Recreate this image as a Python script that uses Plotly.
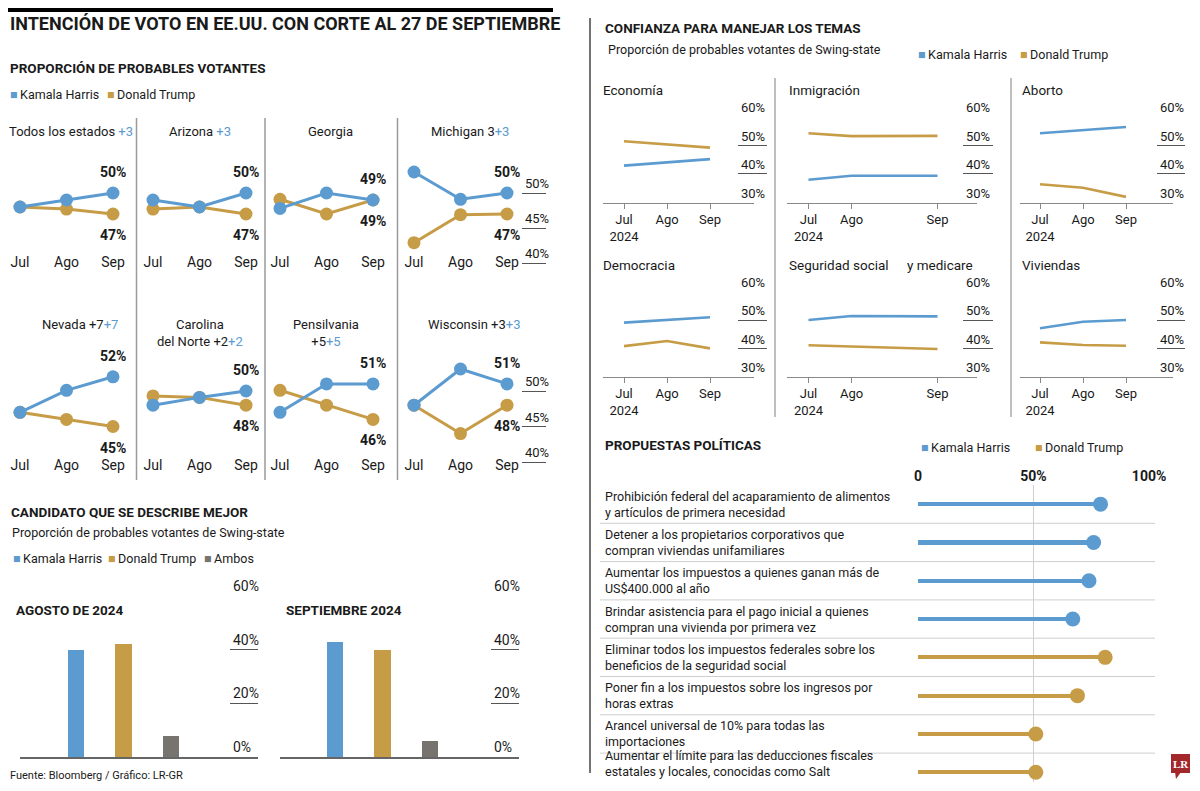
import plotly.graph_objects as go

# ---------------------------------------------------------------- DATA
MESES = ["Jul", "Ago", "Sep"]

ESTADOS = ["Todos los estados ", "Arizona ", "Georgia", "Michigan 3", "Nevada +7",
           "Carolina<br>del Norte +2", "Pensilvania<br>+5", "Wisconsin +3"]
VENTAJA = ["+3", "+3", "", "+3", "+7", "+2", "+5", "+3"]
HARRIS_ESTADO = [[48, 49, 50], [49, 48, 50], [47.8, 50, 49], [53, 49.1, 50],
                 [47, 50.1, 52], [48, 49.1, 50], [47, 51, 51], [48, 53.1, 51]]
TRUMP_ESTADO = [[48, 47.7, 47], [47.7, 48, 47], [49.1, 47, 49], [42.9, 46.9, 47],
                [47, 46, 45], [49.3, 49.1, 48], [50.1, 48, 46], [48, 44, 48]]

DESCRIPCION_CATS = ["Kamala Harris", "Donald Trump", "Ambos"]
DESCRIPCION_AGO = [40, 42, 8]
DESCRIPCION_SEP = [43, 40, 6]

TEMAS = ["Economía", "Inmigración", "Aborto", "Democracia", "Seguridad social", "Viviendas"]
TEMA_CALENDARIO = [["Jul", "Ago", "Sep"], ["Jul", "Ago", " ", "Sep"], ["Jul", "Ago", "Sep"],
                   ["Jul", "Ago", "Sep"], ["Jul", "Ago", " ", "Sep"], ["Jul", "Ago", "Sep"]]
HARRIS_TEMA = [[42.9, 44.1, 45.2], [38, 39.4, 39.4], [54.2, 55.2, 56.4],
               [49.1, 50, 51], [50, 51.4, 51.3], [47.1, 49.4, 50]]
TRUMP_TEMA = [[51.4, 50.2, 49.2], [54.2, 53.2, 53.3], [36.4, 35.2, 32],
              [40.8, 42.6, 40], [41.1, 40.7, 39.8], [42.1, 41.2, 40.9]]

PROPUESTAS = [
    "Prohibición federal del acaparamiento de alimentos<br>y artículos de primera necesidad",
    "Detener a los propietarios corporativos que<br>compran viviendas unifamiliares",
    "Aumentar los impuestos a quienes ganan más de<br>US$400.000 al año",
    "Brindar asistencia para el pago inicial a quienes<br>compran una vivienda por primera vez",
    "Eliminar todos los impuestos federales sobre los<br>beneficios de la seguridad social",
    "Poner fin a los impuestos sobre los ingresos por<br>horas extras",
    "Arancel universal de 10% para todas las<br>importaciones",
    "Aumentar el límite para las deducciones fiscales<br>estatales y locales, conocidas como Salt",
]
PROPUESTA_CANDIDATO = ["Kamala Harris"] * 4 + ["Donald Trump"] * 4
PROPUESTA_APOYO = [79, 76, 74, 67, 81, 69, 51, 51]

# ---------------------------------------------------------------- STYLE
# The page keeps the browser's 8px body margin, so the figure is sized to fill the
# 1200x791 window exactly and all positions below are given in window pixels.
PAGE_W, PAGE_H, PAD = 1200, 791, 8
W, H = PAGE_W - 2 * PAD, PAGE_H - 2 * PAD - 1
FONT = "Roboto, Liberation Sans, sans-serif"
INK = "#1a1a1a"
AZUL = "#5b9bd0"
ORO = "#c79c47"
GRIS = "#77736e"
COLOR = {"Kamala Harris": AZUL, "Donald Trump": ORO, "Ambos": GRIS}


def X(px):
    return min(max((px - PAD) / W, 0), 1)


def Y(py):
    return min(max(1 - (py - PAD) / H, 0), 1)


fig = go.Figure()
axes = {}
annots = []
shapes = []
count = [0]
BASE_AX = dict(showgrid=False, zeroline=False, showline=False, automargin=False,
               showticklabels=False, ticks="", fixedrange=True)


def subplot(xpx, ypx, xkw=None, ykw=None):
    count[0] += 1
    k = count[0]
    sx = "" if k == 1 else str(k)
    xr, yr = "x" + sx, "y" + sx
    xa = dict(BASE_AX)
    xa.update(domain=[X(xpx[0]), X(xpx[1])], anchor=yr)
    xa.update(xkw or {})
    ya = dict(BASE_AX)
    ya.update(domain=[Y(ypx[1]), Y(ypx[0])], anchor=xr)
    ya.update(ykw or {})
    axes["xaxis" + sx] = xa
    axes["yaxis" + sx] = ya
    return xr, yr


def escala(xpx, ypx, yrange, vals, size=13):
    xa, ya = subplot(xpx, ypx, dict(range=[0, 1]),
                     dict(range=yrange, tickvals=vals, ticktext=[f"{v}%" for v in vals],
                          showticklabels=True, showgrid=True, gridcolor="#555", gridwidth=1,
                          side="left", ticklabelposition="inside top", ticklabeloverflow="allow",
                          tickfont=dict(family=FONT, size=size, color=INK)))
    fig.add_trace(go.Scatter(x=[0.5], y=[vals[0]], mode="markers", xaxis=xa, yaxis=ya,
                             marker=dict(size=1, opacity=0), showlegend=False, hoverinfo="skip"))


def txt(text, xpx, ypx, size=13, color=INK, xanchor="left", yanchor="middle", align="left", family=FONT):
    annots.append(dict(text=text, x=X(xpx), y=Y(ypx), xref="paper", yref="paper",
                       xanchor=xanchor, yanchor=yanchor, align=align, showarrow=False,
                       font=dict(family=family, size=size, color=color)))


def leyenda(items, ypx, size=12.5):
    for label, xpx in items:
        txt(f"<span style='color:{COLOR[label]}'>■</span>\u2009{label}", xpx, ypx, size=size)


def linea(x0, y0, x1, y1, color="#999", width=1.5):
    shapes.append(dict(type="line", xref="paper", yref="paper", x0=X(x0), x1=X(x1),
                       y0=Y(y0), y1=Y(y1), line=dict(color=color, width=width)))


# ---------------------------------------------------------------- HEADERS
shapes.append(dict(type="rect", xref="paper", yref="paper", x0=X(PAD), x1=X(553), y0=Y(12), y1=Y(PAD),
                   fillcolor="black", line=dict(width=0)))
txt("<b>INTENCIÓN DE VOTO EN EE.UU. CON CORTE AL 27 DE SEPTIEMBRE</b>", 6, 24, size=18)
txt("<b>PROPORCIÓN DE PROBABLES VOTANTES</b>", 6, 68, size=13.5)
leyenda([("Kamala Harris", 8), ("Donald Trump", 105)], 95)

linea(590, 18, 590, 773, color="#444", width=1.5)

# ---------------------------------------------------------------- STATE PANELS
JUL_PX = [20, 153, 280, 414]
PASO = 46.5
FILAS = [dict(top=150, bot=252, ref=193, s=7.0, sbot=272),
         dict(top=345, bot=455, ref=391, s=7.1, sbot=470)]
TIT_X = [71, 200, 330, 470, 80, 200, 326, 474]

for i in range(8):
    fila, col = divmod(i, 4)
    F = FILAS[fila]
    jul = JUL_PX[col]
    left = max(jul - 0.4 * PASO, PAD + 0.5)
    xr = [(left - jul) / PASO, 2.4]
    yr = [50 - (F["bot"] - F["ref"]) / F["s"], 50 + (F["ref"] - F["top"]) / F["s"]]
    xa, ya = subplot((left, jul + xr[1] * PASO), (F["top"], F["bot"]),
                     dict(type="category", categoryorder="array", categoryarray=MESES, range=xr,
                          showticklabels=True, tickfont=dict(family=FONT, size=14, color=INK)),
                     dict(range=yr))
    for vals, color, shift in ((TRUMP_ESTADO[i], ORO, -21), (HARRIS_ESTADO[i], AZUL, 21)):
        fig.add_trace(go.Scatter(x=MESES, y=vals, mode="lines+markers", xaxis=xa, yaxis=ya,
                                 line=dict(color=color, width=3), marker=dict(size=13, color=color),
                                 cliponaxis=False, showlegend=False, hoverinfo="skip"))
        annots.append(dict(x=MESES[-1], y=vals[-1], xref=xa, yref=ya, yshift=shift,
                           text=f"<b>{vals[-1]:.0f}%</b>", showarrow=False,
                           font=dict(family=FONT, size=14, color=INK)))
    titulo = ESTADOS[i] + (f"<span style='color:{AZUL}'>{VENTAJA[i]}</span>" if VENTAJA[i] else "")
    if fila == 0:
        txt(titulo, TIT_X[i], 132, size=13, xanchor="center", align="center")
    else:
        txt(titulo, TIT_X[i], 315, size=13, xanchor="center", yanchor="top", align="center")
    if col == 3:
        syr = [50 - (F["sbot"] - F["ref"]) / F["s"], yr[1]]
        escala((522, 546), (F["top"], F["sbot"]), syr, [40, 45, 50])

for xs in (136.5, 265, 397.5):
    linea(xs, 118, xs, 480, color="#9a9a9a", width=1.5)

# ---------------------------------------------------------------- DESCRIPTION BARS
txt("<b>CANDIDATO QUE SE DESCRIBE MEJOR</b>", 9, 512, size=13.5)
txt("Proporción de probables votantes de Swing-state", 10, 532, size=12.5)
leyenda([("Kamala Harris", 11), ("Donald Trump", 106), ("Ambos", 202)], 558)

PASO_B = 47.5
for vals, (x0, x1, first), titulo, tx, (s0, s1) in (
        (DESCRIPCION_AGO, (20, 258, 76), "AGOSTO DE 2024", 14, (230, 258)),
        (DESCRIPCION_SEP, (280, 519, 335), "SEPTIEMBRE 2024", 284, (491, 519))):
    xr = [(x0 - first) / PASO_B, (x1 - first) / PASO_B]
    xa, ya = subplot((x0, x1), (596, 757),
                     dict(type="category", categoryorder="array", categoryarray=DESCRIPCION_CATS,
                          range=xr, showline=True, linecolor="#666", linewidth=1.5),
                     dict(range=[0, 60]))
    fig.add_trace(go.Bar(x=DESCRIPCION_CATS, y=vals, width=0.34, xaxis=xa, yaxis=ya,
                         marker=dict(color=[COLOR[c] for c in DESCRIPCION_CATS], line=dict(width=0)),
                         showlegend=False, hoverinfo="skip"))
    escala((s0, s1), (596, 757), [0, 60], [0, 20, 40, 60], size=14)
    txt(f"<b>{titulo}</b>", tx, 610, size=13.5)

txt("Fuente: Bloomberg / Gráfico: LR-GR", 8, 775, size=11)

# ---------------------------------------------------------------- ISSUE PANELS
txt("<b>CONFIANZA PARA MANEJAR LOS TEMAS</b>", 603, 28, size=13.5)
txt("Proporción de probables votantes de Swing-state", 606, 50, size=12.5)
leyenda([("Kamala Harris", 916), ("Donald Trump", 1018)], 54)

TEMA_JUL = [624, 808.5, 1040]
TEMA_RANGO = [[-0.49, 3.02], [-0.49, 3.92], [-0.47, 3.09]]
TEMA_ESCALA = [(738, 767), (963, 993), (1157, 1185)]
TEMA_TIT_X = [601, 787, 1020]
TEMA_FILAS = [dict(top=116.7, bot=202.6, tit=90), dict(top=291.7, bot=376.7, tit=265)]
PASO_T = 43

for i in range(6):
    fila, col = divmod(i, 3)
    F = TEMA_FILAS[fila]
    jul = TEMA_JUL[col]
    xr = TEMA_RANGO[col]
    cal = TEMA_CALENDARIO[i]
    puntos = [m for m in cal if m.strip()]
    xa, ya = subplot((jul + xr[0] * PASO_T, jul + xr[1] * PASO_T), (F["top"], F["bot"]),
                     dict(type="category", categoryorder="array", categoryarray=cal, range=xr,
                          showline=True, linecolor="#888", linewidth=1.2, ticks="outside",
                          ticklen=5, tickcolor="#888", tickvals=puntos,
                          ticktext=[m + ("<br>2024" if m == "Jul" else "") for m in puntos],
                          showticklabels=True, tickfont=dict(family=FONT, size=13, color=INK)),
                     dict(range=[30, 60]))
    for vals, color in ((TRUMP_TEMA[i], ORO), (HARRIS_TEMA[i], AZUL)):
        fig.add_trace(go.Scatter(x=puntos, y=vals, mode="lines", xaxis=xa, yaxis=ya,
                                 line=dict(color=color, width=2.6), cliponaxis=False,
                                 showlegend=False, hoverinfo="skip"))
    escala(TEMA_ESCALA[col], (F["top"], F["bot"]), [30, 60], [30, 40, 50, 60])
    if TEMAS[i] == "Seguridad social":
        txt(TEMAS[i], TEMA_TIT_X[col], F["tit"], size=13.5)
        txt("y medicare", 905, F["tit"], size=13.5)
    else:
        txt(TEMAS[i], TEMA_TIT_X[col], F["tit"], size=13.5)

for xs in (775, 1011):
    linea(xs, 78, xs, 417, color="#aaa", width=1.5)

# ---------------------------------------------------------------- PROPOSALS
txt("<b>PROPUESTAS POLÍTICAS</b>", 603, 445, size=13.5)
leyenda([("Kamala Harris", 919), ("Donald Trump", 1033)], 447)

filas = list(range(len(PROPUESTAS)))
colores = [COLOR[c] for c in PROPUESTA_CANDIDATO]
FILA_PX = 38.3
LOL_TOP, LOL_BOT = 485, 782
xa, ya = subplot((917, 1150), (LOL_TOP, LOL_BOT),
                 dict(range=[-0.4, 100.4], side="top", tickvals=[0, 50, 100],
                      ticktext=["<b>0</b>", "<b>50%</b>", "<b>100%</b>"], showticklabels=True,
                      showgrid=True, gridcolor="#cfcfcf", gridwidth=1,
                      tickfont=dict(family=FONT, size=14, color=INK)),
                 dict(range=[-0.5 + (LOL_BOT - LOL_TOP) / FILA_PX, -0.5]))
fig.add_trace(go.Bar(x=PROPUESTA_APOYO, y=filas, orientation="h", width=0.11, xaxis=xa, yaxis=ya,
                     marker=dict(color=colores, line=dict(width=0)), showlegend=False, hoverinfo="skip"))
fig.add_trace(go.Scatter(x=PROPUESTA_APOYO, y=filas, mode="markers", xaxis=xa, yaxis=ya,
                         marker=dict(size=15, color=colores), cliponaxis=False,
                         showlegend=False, hoverinfo="skip"))
for i, texto in enumerate(PROPUESTAS):
    if i < len(PROPUESTAS) - 1:
        annots.append(dict(text=texto, x=X(603), y=i, xref="paper", yref=ya, xanchor="left",
                           yanchor="middle", align="left", showarrow=False,
                           font=dict(family=FONT, size=12.5, color=INK)))
        shapes.append(dict(type="line", xref="paper", yref=ya, x0=X(600), x1=X(1155),
                           y0=i + 0.5, y1=i + 0.5, line=dict(color="#cfcfcf", width=1)))
    else:
        # last row sits against the bottom edge of the page
        annots.append(dict(text=texto, x=X(603), y=Y(781), xref="paper", yref="paper",
                           xanchor="left", yanchor="bottom", align="left", showarrow=False,
                           font=dict(family=FONT, size=12.5, color=INK)))

# LR logo
shapes.append(dict(type="rect", xref="paper", yref="paper", x0=X(1171), x1=X(1190), y0=Y(773), y1=Y(754),
                   fillcolor="#a3282b", line=dict(width=0)))
shapes.append(dict(type="path", xref="paper", yref="paper",
                   path=f"M {X(1175)} {Y(772)} L {X(1181)} {Y(772)} L {X(1176)} {Y(779)} Z",
                   fillcolor="#a3282b", line=dict(width=0)))
txt("<b>LR</b>", 1180.5, 763.5, size=11, color="white", xanchor="center",
    family="Liberation Serif, DejaVu Serif, serif")

fig.update_layout(width=W, height=H, margin=dict(l=0, r=0, t=0, b=0, autoexpand=False),
                  paper_bgcolor="white", plot_bgcolor="white", showlegend=False,
                  bargap=0, annotations=annots, shapes=shapes,
                  font=dict(family=FONT, color=INK), **axes)

fig.write_html("out.html", config={"displayModeBar": False})
